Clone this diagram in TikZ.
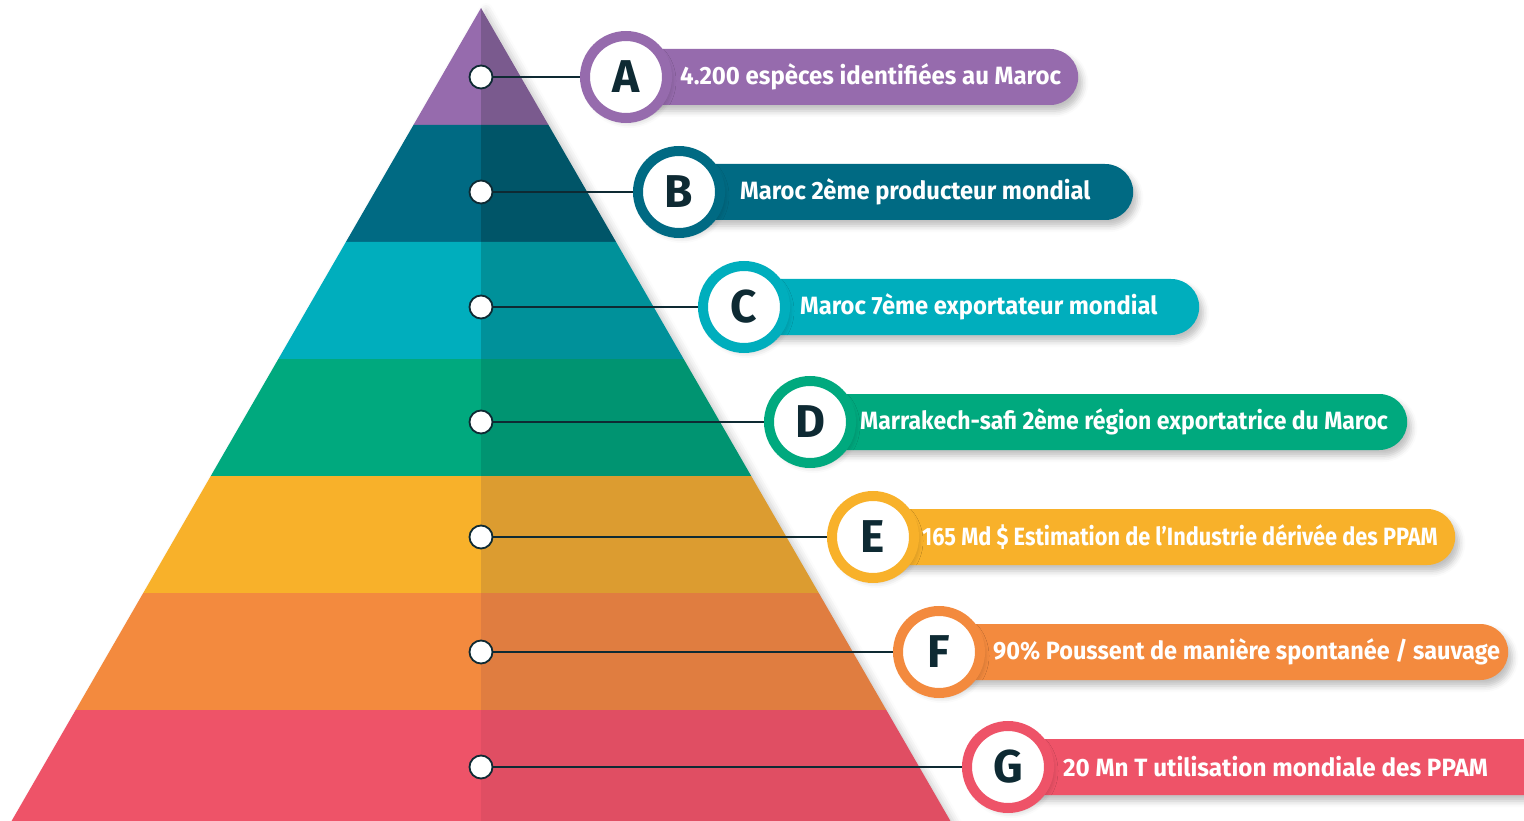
\documentclass[tikz,border=0pt]{standalone}
\usepackage{graphicx}
\usepackage{fontspec}
\setmainfont{Fira Sans}
\usetikzlibrary{shadows.blur}

\definecolor{ink}{HTML}{0E2A33}
\definecolor{aL}{HTML}{966BAD}\definecolor{aD}{HTML}{7A5A8E}
\definecolor{bL}{HTML}{006A83}\definecolor{bD}{HTML}{005568}
\definecolor{cL}{HTML}{00AEBD}\definecolor{cD}{HTML}{00919A}
\definecolor{dL}{HTML}{00A97E}\definecolor{dD}{HTML}{009471}
\definecolor{eL}{HTML}{F8B12A}\definecolor{eD}{HTML}{DC9C30}
\definecolor{fL}{HTML}{F38A3E}\definecolor{fD}{HTML}{E07D40}
\definecolor{gL}{HTML}{EE5368}\definecolor{gD}{HTML}{E04E63}

\begin{document}
\begin{tikzpicture}[x=1pt, y=-1pt,
  dot/.style={circle, draw=ink, fill=white, line width=1.8pt, minimum size=23pt, inner sep=0pt},
  badge/.style={circle, draw=#1, fill=white, line width=10pt, minimum size=82pt, inner sep=0pt,
    text=ink, font=\bfseries\fontsize{46}{46}\selectfont,
    blur shadow={shadow xshift=3pt, shadow yshift=-4pt, shadow blur radius=6pt, shadow opacity=25}},
  pill/.style={fill=#1, rounded corners=28pt, minimum height=56pt, inner sep=0pt, anchor=west,
    blur shadow={shadow xshift=4pt, shadow yshift=-6pt, shadow blur radius=6pt, shadow opacity=25}},
  lbl/.style={anchor=west, text=white, inner sep=0pt,
    font=\bfseries\fontsize{25}{25}\selectfont},
  link/.style={draw=ink, line width=1.8pt}]

  \useasboundingbox (0,0) rectangle (1524,821);

  %% pyramid, light half on the left, dark half on the right
  \begin{scope}
    \clip (0,0) rectangle (1524,821);
    \fill[white, blur shadow={shadow xshift=5pt, shadow yshift=-2pt, shadow blur radius=7pt, shadow opacity=20}]
      (481,8) -- (953,827) -- (9,827) -- cycle;
    \foreach \t/\b/\cl/\cd in {8/125/aL/aD, 125/242/bL/bD, 242/359/cL/cD, 359/476/dL/dD,
                               476/593/eL/eD, 593/710/fL/fD, 710/827/gL/gD}{
      \fill[\cl] ({481-0.5774*(\t-8)},\t) -- (481,\t) -- (481,\b) -- ({481-0.5774*(\b-8)},\b) -- cycle;
      \fill[\cd] (481,\t) -- ({481+0.5774*(\t-8)},\t) -- ({481+0.5774*(\b-8)},\b) -- (481,\b) -- cycle;
    }
  \end{scope}

  %% labels
  \foreach \k/\y/\bx/\ex/\tx/\sx/\cl/\txt in {
      A/77/626/1078/680/0.96/aL/{4.200 espèces identifiées au Maroc},
      B/192/679/1133/740/0.95/bL/{Maroc 2ème producteur mondial},
      C/307/744/1199/800/0.95/cL/{Maroc 7ème exportateur mondial},
      D/422/810/1407/860/0.92/dL/{Marrakech-safi 2ème région exportatrice du Maroc},
      E/537/873/1455/922/0.87/eL/{165 Md \$ Estimation de l'Industrie dérivée des PPAM},
      F/652/939/1508/993/0.94/fL/{90\% Poussent de manière spontanée / sauvage},
      G/767/1008/1560/1063/0.97/gL/{20 Mn T utilisation mondiale des PPAM}}{
    \pgfmathsetmacro\w{\ex-\bx}
    \node[pill=\cl, minimum width=\w pt] (p\k) at (\bx,\y) {};
    \node[lbl] (t\k) at (\tx,\y) {\scalebox{\sx}[1]{\txt}};
    \node[dot] (d\k) at (481,\y) {};
    \node[badge=\cl] (b\k) at (\bx,\y) {\k};
    \draw[link] (d\k) -- (b\k);
  }

\end{tikzpicture}
\end{document}
